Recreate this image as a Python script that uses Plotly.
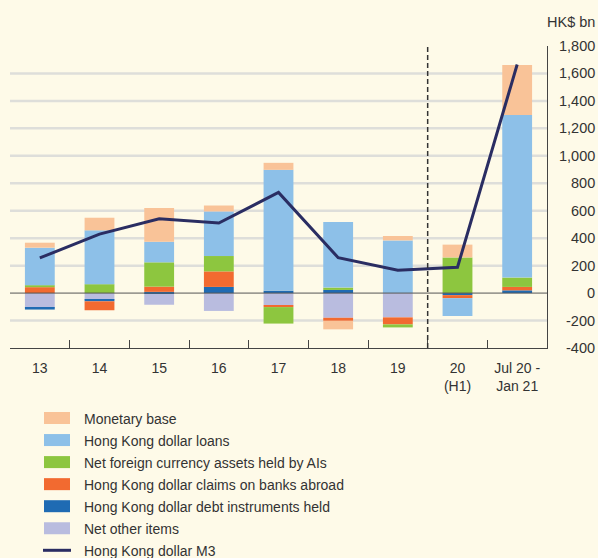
import plotly.graph_objects as go

# ---------------- data ----------------
categories = ["13", "14", "15", "16", "17", "18", "19", "20<br>(H1)", "Jul 20 -<br>Jan 21"]
monetary_base = [36, 92, 245, 43, 51, -62, 32, 93, 364]
hk_loans = [273, 392, 150, 325, 880, 478, 384, -130, 1184]
nfca_ais = [15, 65, 177, 112, -120, 17, -22, 260, 68]
claims_abroad = [43, -65, 38, 113, -14, -22, -51, -22, 25]
debt_instruments = [-12, -10, 9, 45, 18, 23, 0, -15, 20]
net_other_items = [-108, -50, -85, -130, -88, -180, -177, 0, 0]
hkd_m3 = [256, 430, 542, 510, 733, 258, 166, 188, 1665]

ytick_vals = [-400, -200, 0, 200, 400, 600, 800, 1000, 1200, 1400, 1600, 1800]
ytick_text = ["-400", "-200", "0", "200", "400", "600", "800", "1,000", "1,200", "1,400", "1,600", "1,800"]
grid_vals = [-200, 200, 400, 600, 800, 1000, 1200, 1400, 1600]

legend_labels = ["Monetary base", "Hong Kong dollar loans", "Net foreign currency assets held by AIs",
                 "Hong Kong dollar claims on banks abroad", "Hong Kong dollar debt instruments held",
                 "Net other items", "Hong Kong dollar M3"]

# ---------------- style ----------------
C_MB = "#F9C398"
C_LOANS = "#8DC0E8"
C_NFCA = "#8DC63F"
C_CLAIMS = "#F26A30"
C_DEBT = "#1F6BB3"
C_NOI = "#B9BCDF"
C_M3 = "#2A2D62"
BG = "#FEFAE8"
TXT = "#333333"
FONT = "Liberation Sans, Arial, sans-serif"

W, H = 598, 558
ML, MR, MT, MB_ = 10, 51, 46, 210
PW = W - ML - MR
PH = H - MT - MB_


def px2x(px):
    return (px - ML) / PW


def py2y(py):
    return (H - MB_ - py) / PH


fig = go.Figure()

# stacking order (first trace nearest zero)
bar_series = [
    ("Net other items", net_other_items, C_NOI),
    ("Hong Kong dollar debt instruments held", debt_instruments, C_DEBT),
    ("Hong Kong dollar claims on banks abroad", claims_abroad, C_CLAIMS),
    ("Net foreign currency assets held by AIs", nfca_ais, C_NFCA),
    ("Hong Kong dollar loans", hk_loans, C_LOANS),
    ("Monetary base", monetary_base, C_MB),
]
for name, vals, col in bar_series:
    fig.add_trace(go.Bar(x=categories, y=vals, name=name, marker=dict(color=col, line=dict(width=0)),
                         width=0.5, showlegend=False))

fig.add_trace(go.Scatter(x=categories, y=hkd_m3, mode="lines", name="Hong Kong dollar M3",
                         line=dict(color=C_M3, width=3), showlegend=False))

shapes = []
for g in grid_vals:
    shapes.append(dict(type="line", xref="paper", x0=0, x1=1, yref="y", y0=g, y1=g,
                       line=dict(color="#DEDEDA", width=2.5), layer="below"))
# zero line
shapes.append(dict(type="line", xref="paper", x0=0, x1=1, yref="y", y0=0, y1=0,
                   line=dict(color="#555555", width=1), layer="above"))
# dashed divider between annual and half-year data
div_x = categories.index("20<br>(H1)") - 0.5
shapes.append(dict(type="line", xref="x", x0=div_x, x1=div_x, yref="y", y0=-400, y1=1825,
                   line=dict(color="#333333", width=1.5, dash="5px,3px"), layer="above"))

annotations = []
for v, t in zip(ytick_vals, ytick_text):
    annotations.append(dict(xref="paper", x=1, xshift=50, xanchor="right", yref="y", y=v, yanchor="middle",
                            text=t, showarrow=False, font=dict(family=FONT, size=14.5, color=TXT)))
annotations.append(dict(xref="paper", x=1, xshift=50, xanchor="right", yref="paper", y=py2y(21.7),
                        yanchor="middle", text="HK$ bn", showarrow=False,
                        font=dict(family=FONT, size=14.5, color=TXT)))

# manual legend
legend_colors = [C_MB, C_LOANS, C_NFCA, C_CLAIMS, C_DEBT, C_NOI, C_M3]
row0, row_step = 418.0, 22.05
for i, (lab, col) in enumerate(zip(legend_labels, legend_colors)):
    yc = row0 + i * row_step
    if i < 6:
        shapes.append(dict(type="rect", xref="paper", yref="paper", x0=px2x(44), x1=px2x(70),
                           y0=py2y(yc - 6), y1=py2y(yc + 6), fillcolor=col, line=dict(width=0)))
    else:
        shapes.append(dict(type="line", xref="paper", yref="paper", x0=px2x(43), x1=px2x(71),
                           y0=py2y(yc), y1=py2y(yc), line=dict(color=col, width=3)))
    annotations.append(dict(xref="paper", yref="paper", x=px2x(82), y=py2y(yc + 0.5), xanchor="left",
                            yanchor="middle", text=lab, showarrow=False,
                            font=dict(family=FONT, size=14, color=TXT)))

fig.update_layout(
    width=W, height=H,
    margin=dict(l=ML, r=MR, t=MT, b=MB_, pad=0),
    paper_bgcolor=BG, plot_bgcolor=BG,
    barmode="relative", bargap=0.5,
    showlegend=False,
    font=dict(family=FONT, size=14, color=TXT),
    shapes=shapes, annotations=annotations,
    xaxis=dict(type="category", categoryorder="array", categoryarray=categories,
               showline=True, linecolor="#444444", linewidth=1.2,
               ticks="inside", tickson="boundaries", ticklen=8, tickcolor="#444444", tickwidth=1.2,
               ticklabelstandoff=7,
               showgrid=False, zeroline=False, tickfont=dict(family=FONT, size=14, color=TXT),
               range=[-0.5, len(categories) - 0.5]),
    yaxis=dict(range=[-400, 1800], side="right", showline=True, linecolor="#444444", linewidth=1.2,
               showgrid=False, zeroline=False, showticklabels=False, ticks=""),
)

fig.write_html("out.html")
